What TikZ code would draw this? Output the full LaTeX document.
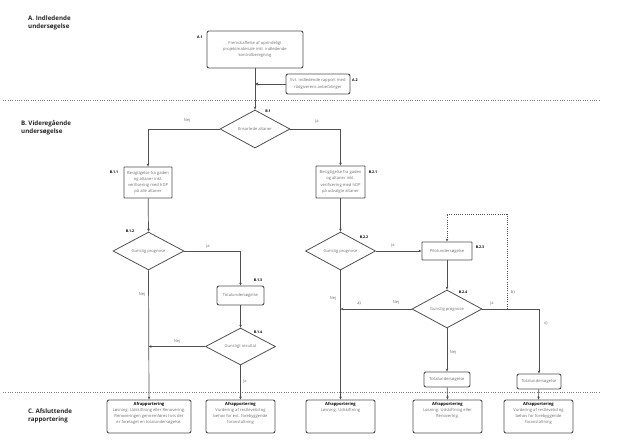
\documentclass[tikz,border=0pt]{standalone}
\usepackage{fontspec}
\setmainfont{Open Sans}
\usetikzlibrary{shapes.geometric,arrows.meta,calc}
\definecolor{ln}{HTML}{505050}
\definecolor{tx}{HTML}{707070}
\begin{document}
\begin{tikzpicture}[x=1pt,y=-1pt,
 box/.style={draw=ln, line width=0.9pt, rounded corners=2pt, fill=white, inner sep=1pt, align=center, font=\fontsize{4.1}{6.2}\selectfont, text=tx},
 sqbox/.style={box, rounded corners=0.4pt},
 cbox/.style={box, minimum height=33pt},
 dia/.style={draw=ln, line width=0.8pt, diamond, inner sep=0pt, minimum width=70pt, minimum height=38pt, font=\fontsize{4.1}{6}\selectfont, text=tx},
 con/.style={draw=ln, line width=0.7pt, -{Stealth[length=3pt,width=2.6pt]}},
 tag/.style={font=\bfseries\fontsize{3.6}{4}\selectfont, text=black, inner sep=0},
 elab/.style={font=\fontsize{4}{5}\selectfont, text=tx, inner sep=0},
 sec/.style={font=\bfseries\fontsize{6.2}{7.8}\selectfont, align=left, anchor=north west, inner sep=0, text=black!85},
 sep/.style={draw=gray, line width=0.7pt, dash pattern=on 1pt off 1.3pt}]
\useasboundingbox (0,0) rectangle (618,444);
% separators
\coordinate (s1a) at (3,100); \coordinate (s1b) at (600,100);
\coordinate (s2a) at (3,392); \coordinate (s2b) at (600,392);
\draw[sep] (s1a) -- (s1b);
\draw[sep] (s2a) -- (s2b);
% section titles
\node[sec] (secA) at (28,16) {A. Indledende\\undersøgelse};
\node[sec] (secB) at (21,120) {B. Videregående\\undersøgelse};
\node[sec] (secC) at (28,409) {C. Afsluttende\\rapportering};
% nodes
\node[box, minimum width=96pt, minimum height=37pt] (A1) at (255,49.5) {Fremskaffelse af oprindeligt\\projektmateriale inkl. indledende\\kontrolberegning};
\node[box, minimum width=64pt, minimum height=20pt] (A2) at (318,84) {Evt. indledende rapport med\\rådgiverens anbefalinger};
\node[dia] (B1) at (255,129) {Ensartede altaner};
\node[sqbox, minimum width=48pt, minimum height=31pt] (B11) at (148,182.5) {Besigtigelse fra gaden\\og altaner inkl.\\verificering med hDP\\på alle altaner};
\node[sqbox, minimum width=49pt, minimum height=32pt] (B21) at (340.5,182) {Besigtigelse fra gaden\\og altaner inkl.\\verificering med hDP\\på udvalgte altaner};
\node[dia, minimum width=71pt, minimum height=37pt] (B12) at (148.5,251) {Gunstig prognose};
\node[box, minimum width=47pt, minimum height=19pt] (B13) at (240.5,295.5) {Totalundersøgelse};
\node[dia, minimum height=37pt] (B14) at (240.5,346.5) {Gunstigt resultat};
\node[dia] (B22) at (340.5,251) {Gunstig prognose};
\node[sqbox, minimum width=50pt, minimum height=18pt] (B23) at (447,251) {Pilotundersøgelse};
\node[dia] (B24) at (447,309) {Gunstig prognose};
\node[box, minimum width=46pt, minimum height=15pt] (T1) at (447,379.5) {Totalundersøgelse};
\node[box, minimum width=44pt, minimum height=15pt] (T2) at (539,381.5) {Totalundersøgelse};
\node[cbox, minimum width=84pt] (C1) at (149,416.5) {\parbox[c][29pt][t]{82pt}{\centering\textcolor{black}{\bfseries Afrapportering}\\Løsning: Udskiftning eller Renovering.\\Renoveringen gennemføres hvis der\\er foretaget en totalundersøgelse.}};
\node[cbox, minimum width=69pt] (C2) at (240.5,416.5) {\parbox[c][29pt][t]{66pt}{\centering\textcolor{black}{\bfseries Afrapportering}\\Vurdering af restlevetid og\\behov for evt. forebyggende\\foranstaltning}};
\node[cbox, minimum width=69pt] (C3) at (340.5,416.5) {\parbox[c][29pt][t]{66pt}{\centering\textcolor{black}{\bfseries Afrapportering}\\Løsning: Udskiftning}};
\node[cbox, minimum width=69pt] (C4) at (447.5,416.5) {\parbox[c][29pt][t]{66pt}{\centering\textcolor{black}{\bfseries Afrapportering}\\Løsning: Udskiftning eller\\Renovering.}};
\node[cbox, minimum width=69pt] (C5) at (538.5,416.5) {\parbox[c][29pt][t]{66pt}{\centering\textcolor{black}{\bfseries Afrapportering}\\Vurdering af restlevetid og\\behov for forebyggende\\foranstaltning}};
% tags
\node[tag] (tA1) at (200,37) {A.1};
\node[tag] (tA2) at (355,80) {A.2};
\node[tag] (tB1) at (268,111) {B.1};
\node[tag] (tB11) at (114,172) {B.1.1};
\node[tag] (tB21) at (373,172) {B.2.1};
\node[tag] (tB12) at (130,231) {B.1.2};
\node[tag] (tB13) at (258,280) {B.1.3};
\node[tag] (tB14) at (258,332) {B.1.4};
\node[tag] (tB22) at (364,237) {B.2.2};
\node[tag] (tB23) at (480,247) {B.2.3};
\node[tag] (tB24) at (463,292) {B.2.4};
% connectors
\draw[con] (A1) -- (B1.north);
\draw[draw=ln, line width=0.7pt, -{Triangle[open,length=3pt,width=3pt]}] (A2.west) -- (A2.west -| A1.south);
\draw[con] (B1.west) -| (B11.north);
\draw[con] (B1.east) -| (B21.north);
\draw[con] (B11) -- (B12.north);
\draw[con] (B21) -- (B22.north);
\draw[con] (B12.east) -| (B13.north);
\draw[con] (B13) -- (B14.north);
\draw[con] (B14.west) -- (B14.west -| B12.south);
\draw[con] (B12.south) -- (C1.north);
\draw[con] (B14.south) -- (C2.north);
\draw[con] (B22.east) -- (B23.west);
\draw[con] (B23) -- (B24.north);
\draw[con] (B24.west) -- (B24.west -| B22.south);
\draw[con] (B22.south) -- (C3.north);
\draw[con] (B24.south) -- (T1.north);
\draw[con] (B24.east) -| (T2.north);
\coordinate (jb) at (507,309);
\coordinate (dtop) at (507,214);
\draw[con, dash pattern=on 1pt off 1.2pt] (jb) -- (dtop) -| (B23.north);
\draw[con] (T1) -- (C4.north);
\draw[con] (T2) -- (C5.north);
% edge labels
\node[elab] (l1) at (187,121) {Nej};
\node[elab] (l2) at (317,121) {Ja};
\node[elab] (l3) at (208,246) {Ja};
\node[elab] (l4) at (177,342) {Nej};
\node[elab] (l5) at (142,295) {Nej};
\node[elab] (l6) at (245,381) {Ja};
\node[elab] (l7) at (393,245) {Ja};
\node[elab] (l8) at (396,303) {Nej};
\node[elab, text=ln] (l9) at (359,303) {a)};
\node[elab] (l10) at (333,299) {Nej};
\node[elab] (l11) at (453,353) {Nej};
\node[elab] (l12) at (492,303) {Ja};
\node[elab, text=ln] (l13) at (513,292) {b)};
\node[elab, text=ln] (l14) at (546,323) {c)};
\end{tikzpicture}
\end{document}
